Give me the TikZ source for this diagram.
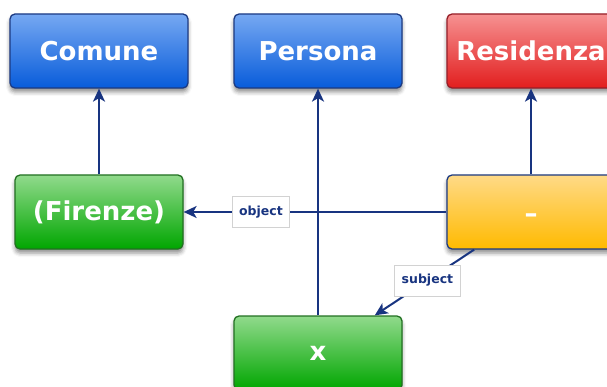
\documentclass[tikz,border=0pt]{standalone}
\usepackage{fontspec}
\setmainfont{DejaVu Sans}
\usetikzlibrary{arrows.meta,shadows.blur}
\definecolor{navy}{RGB}{24,52,128}
\definecolor{bluetop}{RGB}{118,168,242}
\definecolor{bluebot}{RGB}{8,92,218}
\definecolor{blueedge}{RGB}{28,58,130}
\definecolor{greentop}{RGB}{145,218,140}
\definecolor{greenbot}{RGB}{0,166,0}
\definecolor{greenedge}{RGB}{34,112,34}
\definecolor{redtop}{RGB}{246,145,145}
\definecolor{redbot}{RGB}{226,30,30}
\definecolor{rededge}{RGB}{150,30,40}
\definecolor{orangetop}{RGB}{255,218,135}
\definecolor{orangebot}{RGB}{255,186,0}
\begin{document}
\begin{tikzpicture}[x=1pt,y=-1pt,
  box/.style={rounded corners=5pt, line width=1.3pt,
    minimum width=168pt, minimum height=74pt, inner sep=0pt,
    text=white, font=\fontsize{26}{30}\selectfont\bfseries,
    blur shadow={shadow xshift=0pt, shadow yshift=-4pt,
      shadow blur radius=4pt, shadow opacity=45}},
  bluebox/.style={box, draw=blueedge, top color=bluetop, bottom color=bluebot},
  greenbox/.style={box, draw=greenedge, top color=greentop, bottom color=greenbot},
  redbox/.style={box, draw=rededge, top color=redtop, bottom color=redbot},
  orangebox/.style={box, draw=blueedge, top color=orangetop, bottom color=orangebot},
  link/.style={draw=navy, line width=2pt, -{Stealth[length=13pt,width=12pt,inset=3.5pt]}},
  tag/.style={fill=white, draw=gray!35, line width=0.6pt, text=navy,
    font=\fontsize{12.5}{14}\selectfont\bfseries,
    minimum height=31pt, inner xsep=7pt}
]
\useasboundingbox (0,0) rectangle (607,387);

% class boxes
\node[bluebox, minimum width=178pt] (comune) at (99,51) {Comune};
\node[bluebox] (persona) at (318,51) {Persona};
\node[redbox] (residenza) at (531,51) {Residenza};

% instance boxes
\node[greenbox] (firenze) at (99,212) {(Firenze)};
\node[orangebox] (rel) at (531,212) {\smash{\raisebox{-10pt}{–}}};
\node[greenbox] (xvar) at (318,353) {x};

% type links
\draw[link] (firenze) -- (comune);
\draw[link] (xvar) -- (persona);
\draw[link] (rel) -- (residenza);

% relation links
\draw[link] (rel) -- node[tag, pos=0.706] (objtag) {object} (firenze);
\draw[link] (rel) -- node[tag, pos=0.47] (subjtag) {subject} (xvar);
\end{tikzpicture}
\end{document}
